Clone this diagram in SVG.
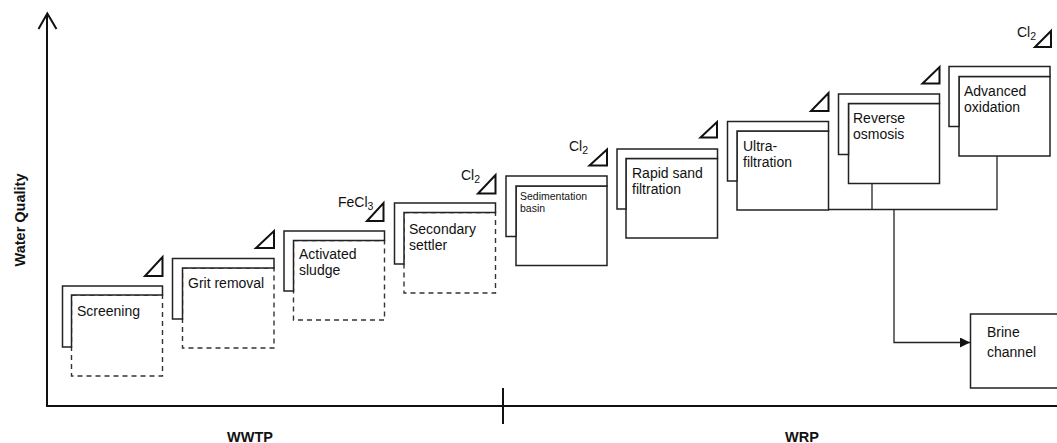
<svg xmlns="http://www.w3.org/2000/svg" width="1057" height="443" viewBox="0 0 1057 443">
<style>
  .t{font-family:"Liberation Sans",Arial,sans-serif;font-size:14px;fill:#111}
  .ts{font-family:"Liberation Sans",Arial,sans-serif;font-size:10.5px;fill:#111}
  .b{font-family:"Liberation Sans",Arial,sans-serif;font-size:14.5px;font-weight:bold;fill:#111}
  .sub{font-size:10.5px}
  .L{fill:#fff;stroke:#222;stroke-width:1.5}
  .fd{fill:#fff;stroke:#333;stroke-width:1.4;stroke-dasharray:5,4}
  .fs{fill:#fff;stroke:#222;stroke-width:1.5}
  .tri{fill:#fff;stroke:#111;stroke-width:2;stroke-linejoin:miter}
  .ax{stroke:#111;stroke-width:2;fill:none}
  .cn{stroke:#222;stroke-width:1.3;fill:none}
</style>
<defs>
  <marker id="arr" markerWidth="10" markerHeight="10" refX="10" refY="5" orient="auto" markerUnits="userSpaceOnUse">
    <path d="M0,0 L10,5 L0,10 Z" fill="#111"/>
  </marker>
</defs>

<g id="axes">
  <line class="ax" x1="47" y1="407" x2="47" y2="15"/>
  <path class="ax" d="M38.5,29 L47.3,13.5 L56.5,29"/>
  <line class="ax" x1="46" y1="406" x2="1057" y2="406"/>
  <line class="ax" x1="503" y1="388" x2="503" y2="424"/>
  <text class="b" transform="translate(25,220) rotate(-90)" text-anchor="middle">Water Quality</text>
  <text class="b" x="250" y="441.5" text-anchor="middle">WWTP</text>
  <text class="b" x="802" y="441.5" text-anchor="middle">WRP</text>
</g>

<g id="screening">
  <rect class="fd" x="71.5" y="295" width="91" height="81"/>
  <path class="L" d="M62.5,286 H162.5 V295 H71.5 V347 H62.5 Z"/>
  <path class="tri" d="M162.5,257 V276 H145 Z"/>
  <text class="t" x="77" y="316">Screening</text>
</g>

<g id="grit-removal">
  <rect class="fd" x="182.5" y="268" width="91.5" height="80"/>
  <path class="L" d="M172.5,258.5 H274 V268 H182.5 V319 H172.5 Z"/>
  <path class="tri" d="M274,231 V248 H256 Z"/>
  <text class="t" x="188" y="288">Grit removal</text>
</g>

<g id="activated-sludge">
  <rect class="fd" x="293.5" y="240.5" width="91" height="79.5"/>
  <path class="L" d="M284,231 H384.5 V240.5 H293.5 V291 H284 Z"/>
  <path class="tri" d="M383.5,203 V221 H367 Z"/>
  <text class="t" x="338" y="207">FeCl<tspan class="sub" dy="3">3</tspan></text>
  <text class="t" x="299" y="259">Activated</text>
  <text class="t" x="299" y="275">sludge</text>
</g>

<g id="secondary-settler">
  <rect class="fd" x="404" y="212.5" width="91.5" height="80.5"/>
  <path class="L" d="M394.5,203 H495.5 V212.5 H404 V264 H394.5 Z"/>
  <path class="tri" d="M495.5,175 V193.5 H478 Z"/>
  <text class="t" x="461" y="180">Cl<tspan class="sub" dy="3">2</tspan></text>
  <text class="t" x="409" y="234">Secondary</text>
  <text class="t" x="409" y="250">settler</text>
</g>

<g id="sedimentation-basin">
  <rect class="fs" x="516" y="186" width="91" height="79.5"/>
  <path class="L" d="M506,176 H607 V186 H516 V236.5 H506 Z"/>
  <path class="tri" d="M607,149.5 V165.5 H589.5 Z"/>
  <text class="t" x="569" y="151">Cl<tspan class="sub" dy="3">2</tspan></text>
  <text class="ts" x="520" y="200">Sedimentation</text>
  <text class="ts" x="520" y="212">basin</text>
</g>

<g id="rapid-sand-filtration">
  <rect class="fs" x="626" y="158.5" width="91.5" height="79.5"/>
  <path class="L" d="M617,149 H717.5 V158.5 H626 V209 H617 Z"/>
  <path class="tri" d="M717,122 V137.5 H700.5 Z"/>
  <text class="t" x="632" y="178">Rapid sand</text>
  <text class="t" x="632" y="194">filtration</text>
</g>

<g id="ultra-filtration">
  <rect class="fs" x="737" y="131" width="91.5" height="79"/>
  <path class="L" d="M727.5,121.5 H828.5 V131 H737 V181 H727.5 Z"/>
  <path class="tri" d="M828.5,93 V111 H811 Z"/>
  <text class="t" x="743" y="151">Ultra-</text>
  <text class="t" x="743" y="167">filtration</text>
</g>

<g id="reverse-osmosis">
  <rect class="fs" x="848.5" y="103.5" width="91" height="80"/>
  <path class="L" d="M838.5,94 H939.5 V103.5 H848.5 V154.5 H838.5 Z"/>
  <path class="tri" d="M939.5,67 V83.5 H922.5 Z"/>
  <text class="t" x="853" y="123">Reverse</text>
  <text class="t" x="853" y="138.5">osmosis</text>
</g>

<g id="advanced-oxidation">
  <rect class="fs" x="959" y="76.5" width="91" height="79.5"/>
  <path class="L" d="M949,66.5 H1050 V76.5 H959 V126.5 H949 Z"/>
  <path class="tri" d="M1051,31 V47 H1035 Z"/>
  <text class="t" x="1017" y="37">Cl<tspan class="sub" dy="3">2</tspan></text>
  <text class="t" x="964" y="96">Advanced</text>
  <text class="t" x="964" y="112">oxidation</text>
</g>

<g id="brine-channel">
  <rect class="fs" x="970.5" y="314" width="100" height="74"/>
  <text class="t" x="987" y="337">Brine</text>
  <text class="t" x="987" y="357">channel</text>
</g>

<g id="connectors">
  <polyline class="cn" points="828.5,209.5 997,209.5 997,156"/>
  <line class="cn" x1="872" y1="183.5" x2="872" y2="209.5"/>
  <polyline class="cn" points="894,209.5 894,342.5 970,342.5" marker-end="url(#arr)"/>
</g>
</svg>
